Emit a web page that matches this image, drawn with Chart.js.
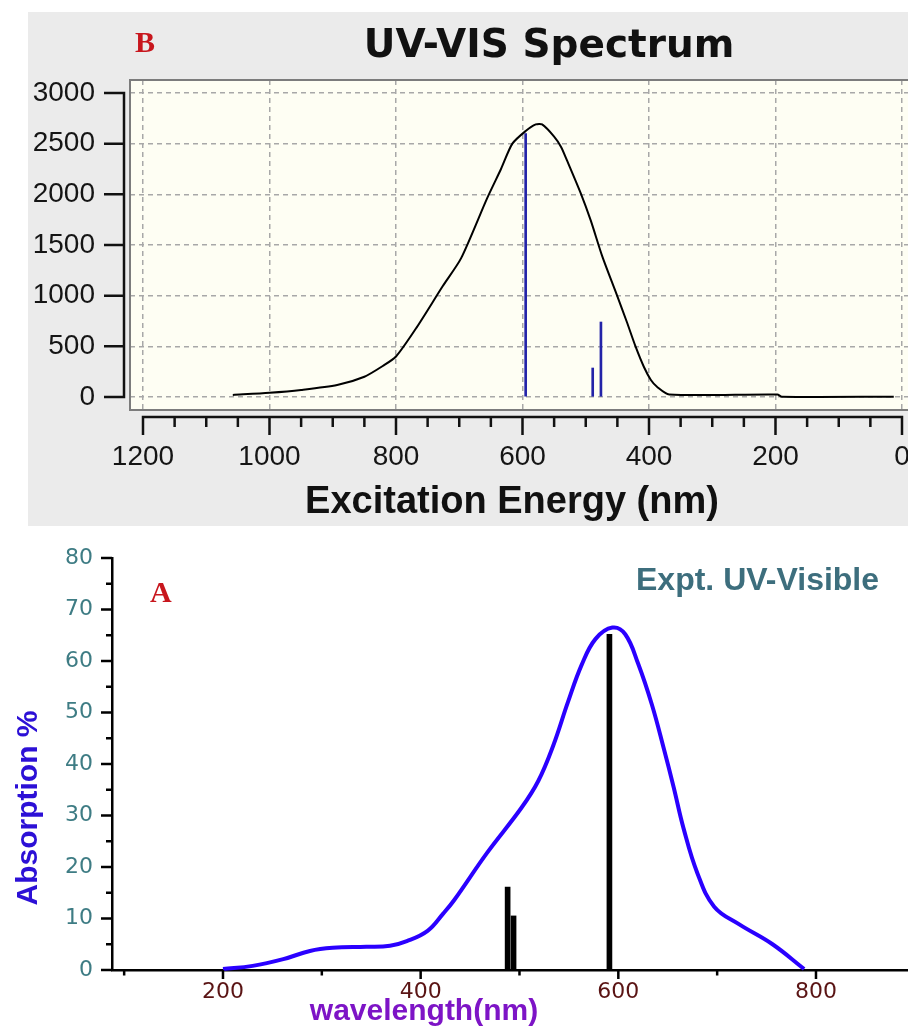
<!DOCTYPE html>
<html>
<head>
<meta charset="utf-8">
<script src="https://cdn.jsdelivr.net/npm/chart.js@4"></script>
<style>
html,body{margin:0;padding:0;background:#fff;width:908px;height:1027px;overflow:hidden;}
#c1{position:absolute;left:0;top:0;}
#c2{position:absolute;left:0;top:530px;}
</style>
</head>
<body>
<canvas id="c1" width="908" height="530"></canvas>
<canvas id="c2" width="908" height="497"></canvas>
<script>
// ---- Panel B: calculated UV-VIS spectrum ----
const calcNm  = [13, 190, 197, 368, 387, 397, 408, 421, 435, 451, 474, 492, 508, 530, 539, 550, 569, 579, 595, 616, 634, 656, 697, 726, 767, 800, 821, 850, 893, 950, 1000, 1058];
const calcVal = [3, 3, 25, 25, 99, 168, 296, 494, 740, 1010, 1390, 1740, 2012, 2340, 2468, 2570, 2690, 2690, 2625, 2500, 2250, 1960, 1370, 1095, 690, 400, 306, 200, 118, 70, 42, 20];
const calcStickNm  = [476, 489, 595];
const calcStickVal = [740, 286, 2600];
const calcXTicks = [0, 200, 400, 600, 800, 1000, 1200];
const calcYTicks = [0, 500, 1000, 1500, 2000, 2500, 3000];

// ---- Panel A: experimental UV-Visible spectrum ----
const exptNm  = [200, 230, 261, 288, 311, 345, 369, 386, 407, 423, 434, 467, 502, 519, 534, 549, 563, 577, 594, 607, 620, 634, 646, 656, 666, 680, 697, 722, 756, 788];
const exptVal = [0.2, 0.8, 2.1, 3.7, 4.3, 4.5, 4.7, 5.6, 7.6, 11.0, 13.6, 22.7, 31.5, 36.7, 43.5, 52.0, 59.3, 64.3, 66.5, 65.2, 59.5, 51.5, 43.0, 35.5, 27.5, 18.8, 12.3, 8.9, 5.0, 0.2];
const exptStickNm  = [488, 494, 591];
const exptStickVal = [16.1, 10.5, 65.2];
const exptXTicks = [100, 200, 300, 400, 500, 600, 700, 800];
const exptYTicks = [0, 10, 20, 30, 40, 50, 60, 70, 80];

const pts = (xs, ys) => xs.map((x, i) => ({x: x, y: ys[i]}));
const setTicks = list => (s => { s.ticks = list.map(v => ({value: v})); });
const noPad = s => { s.paddingLeft = 0; s.paddingRight = 0; s.paddingTop = 0; s.paddingBottom = 0; };

// ---------- Chart B ----------
const panelB = {
  id: 'panelB',
  beforeDraw(chart) {
    const {ctx, chartArea: a} = chart;
    ctx.save();
    ctx.fillStyle = '#ffffff'; ctx.fillRect(0, 0, chart.width, chart.height);
    ctx.fillStyle = '#ebebeb'; ctx.fillRect(28, 12, 880, 514);
    ctx.fillStyle = '#fefef3'; ctx.fillRect(a.left, a.top, a.right - a.left, a.bottom - a.top);
    ctx.restore();
  },
  afterDraw(chart) {
    const {ctx, chartArea: a} = chart;
    const xs = chart.scales.x, ys = chart.scales.y;
    ctx.save();
    // plot frame
    ctx.strokeStyle = '#7c7c7c'; ctx.lineWidth = 2;
    ctx.beginPath();
    ctx.moveTo(a.right + 2, a.top); ctx.lineTo(a.left, a.top); ctx.lineTo(a.left, a.bottom); ctx.lineTo(a.right + 2, a.bottom);
    ctx.stroke();
    // detached x axis
    ctx.strokeStyle = '#111'; ctx.lineWidth = 2.5; ctx.lineCap = 'butt';
    const ay = a.bottom + 7;
    ctx.beginPath();
    ctx.moveTo(xs.getPixelForValue(1200) - 1.25, ay); ctx.lineTo(xs.getPixelForValue(0) + 1.25, ay);
    for (let v = 0; v <= 1200; v += 50) {
      const px = xs.getPixelForValue(v);
      const len = (v % 200 === 0) ? 18 : 10;
      ctx.moveTo(px, ay); ctx.lineTo(px, ay + len);
    }
    ctx.stroke();
    // detached y axis
    const ax = a.left - 6;
    ctx.beginPath();
    ctx.moveTo(ax, ys.getPixelForValue(3000) - 1.25); ctx.lineTo(ax, ys.getPixelForValue(0) + 1.25);
    calcYTicks.forEach(v => {
      const py = ys.getPixelForValue(v);
      ctx.moveTo(ax - 20, py); ctx.lineTo(ax, py);
    });
    ctx.stroke();
    // texts
    ctx.fillStyle = '#c8161d';
    ctx.font = 'bold 30px "Liberation Serif"';
    ctx.textAlign = 'left'; ctx.textBaseline = 'alphabetic';
    ctx.fillText('B', 135, 52);
    ctx.fillStyle = '#111';
    ctx.font = 'bold 39px "DejaVu Sans"';
    ctx.textAlign = 'center';
    ctx.fillText('UV-VIS Spectrum', 549, 57);
    ctx.font = 'bold 38px "Liberation Sans"';
    ctx.fillText('Excitation Energy (nm)', 512, 513);
    ctx.restore();
  }
};

new Chart(document.getElementById('c1'), {
  type: 'line',
  data: {
    datasets: [
      { type: 'line', data: pts(calcNm, calcVal), borderColor: '#000000', borderWidth: 2,
        pointRadius: 0, tension: 0.25, fill: false, order: 1 },
      { type: 'bar', data: pts(calcStickNm, calcStickVal), backgroundColor: '#2323a8',
        borderWidth: 0, barThickness: 2, order: 2 }
    ]
  },
  options: {
    responsive: false, animation: false, devicePixelRatio: 1,
    layout: { padding: { top: 80, left: 0, right: 0, bottom: 0 } },
    plugins: { legend: { display: false }, tooltip: { enabled: false }, title: { display: false } },
    scales: {
      x: {
        type: 'linear', reverse: true, min: -9.49, max: 1220.55, offset: false,
        afterBuildTicks: setTicks(calcXTicks),
        afterFit: s => { s.height = 120; noPad(s); },
        grid: { color: '#a8a8a8', lineWidth: 1.5, drawTicks: false, offset: false },
        border: { display: false, dash: [5, 4] },
        ticks: { padding: 30, color: '#151515', maxRotation: 0, autoSkip: false,
                 font: { family: 'Liberation Sans', size: 28 }, callback: v => String(v) }
      },
      y: {
        type: 'linear', min: -128.3, max: 3128.3,
        afterBuildTicks: setTicks(calcYTicks),
        afterFit: s => { s.width = 130; noPad(s); },
        grid: { color: '#a8a8a8', lineWidth: 1.5, drawTicks: false },
        border: { display: false, dash: [5, 4] },
        ticks: { padding: 35, color: '#151515', autoSkip: false,
                 font: { family: 'Liberation Sans', size: 28 }, callback: v => String(v) }
      }
    }
  },
  plugins: [panelB]
});

// ---------- Chart A ----------
const panelA = {
  id: 'panelA',
  beforeDraw(chart) {
    const {ctx} = chart;
    ctx.save();
    ctx.fillStyle = '#ffffff'; ctx.fillRect(0, 0, chart.width, chart.height);
    ctx.restore();
  },
  afterDraw(chart) {
    const {ctx, chartArea: a} = chart;
    const xs = chart.scales.x, ys = chart.scales.y;
    ctx.save();
    ctx.strokeStyle = '#000'; ctx.lineWidth = 2.5;
    ctx.beginPath();
    exptXTicks.forEach(v => {
      const px = xs.getPixelForValue(v);
      const len = (v % 200 === 0) ? 9 : 5.5;
      ctx.moveTo(px, a.bottom); ctx.lineTo(px, a.bottom + len);
    });
    for (let v = 0; v <= 80; v += 5) {
      const py = ys.getPixelForValue(v);
      const len = (v % 10 === 0) ? 11 : 6;
      ctx.moveTo(a.left - len, py); ctx.lineTo(a.left, py);
    }
    ctx.stroke();
    // texts
    ctx.fillStyle = '#c8161d';
    ctx.font = 'bold 30px "Liberation Serif"';
    ctx.textAlign = 'left'; ctx.textBaseline = 'alphabetic';
    ctx.fillText('A', 150, 72);
    ctx.fillStyle = '#3d6e7d';
    ctx.font = 'bold 32px "Liberation Sans"';
    ctx.fillText('Expt. UV-Visible', 636, 60);
    ctx.fillStyle = '#7d14c6';
    ctx.font = 'bold 30px "Liberation Sans"';
    ctx.textAlign = 'center';
    ctx.fillText('wavelength(nm)', 424, 490);
    ctx.save();
    ctx.translate(37, 278);
    ctx.rotate(-Math.PI / 2);
    ctx.fillStyle = '#2c10d6';
    ctx.fillText('Absorption %', 0, 0);
    ctx.restore();
    ctx.restore();
  }
};

new Chart(document.getElementById('c2'), {
  type: 'line',
  data: {
    datasets: [
      { type: 'line', data: pts(exptNm, exptVal), borderColor: '#2a00ff', borderWidth: 4,
        pointRadius: 0, tension: 0.4, fill: false, clip: 8, order: 1 },
      { type: 'bar', data: pts(exptStickNm, exptStickVal), backgroundColor: '#000000',
        borderWidth: 0, barThickness: 5, order: 2 }
    ]
  },
  options: {
    responsive: false, animation: false, devicePixelRatio: 1,
    layout: { padding: { top: 28, left: 0, right: 0, bottom: 0 } },
    plugins: { legend: { display: false }, tooltip: { enabled: false }, title: { display: false } },
    scales: {
      x: {
        type: 'linear', min: 87.7, max: 893.1, offset: false,
        afterBuildTicks: setTicks(exptXTicks),
        afterFit: s => { s.height = 57; noPad(s); },
        grid: { display: false, drawTicks: false, offset: false },
        border: { display: true, color: '#000', width: 2.5 },
        ticks: { padding: 9, color: '#5a1414', maxRotation: 0, autoSkip: false,
                 font: { family: 'DejaVu Sans', size: 22 },
                 callback: v => (v % 200 === 0 ? String(v) : '') }
      },
      y: {
        type: 'linear', min: 0, max: 80,
        afterBuildTicks: setTicks(exptYTicks),
        afterFit: s => { s.width = 112; noPad(s); },
        grid: { display: false, drawTicks: false },
        border: { display: true, color: '#000', width: 2.5 },
        ticks: { padding: 19, color: '#3e7c84', autoSkip: false,
                 font: { family: 'DejaVu Sans', size: 22 }, callback: v => String(v) }
      }
    }
  },
  plugins: [panelA]
});
</script>
</body>
</html>
